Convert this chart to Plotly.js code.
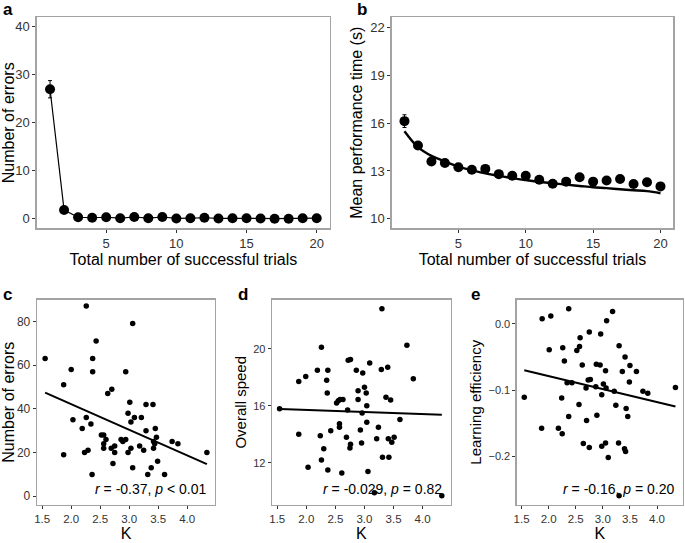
<!DOCTYPE html>
<html>
<head>
<meta charset="utf-8">
<script src="https://cdn.plot.ly/plotly-3.0.1.min.js"></script>
<style>
body{margin:0;background:#fff}
#fig{width:685px;height:543px}
</style>
</head>
<body>
<div id="fig"></div>
<script>
// trials 1..20 (panels a, b)
var trials = [1,2,3,4,5,6,7,8,9,10,11,12,13,14,15,16,17,18,19,20]
var errMean = [27,1.8,0.3,0.2,0.3,0.1,0.35,0.1,0.35,0.05,0.1,0.2,0.05,0.1,0.1,0.05,0,0,0.1,0.1]
var errSE = [1.8,0.35,0.15,0.1,0.1,0.05,0.1,0.05,0.1,0.05,0.05,0.1,0.05,0.05,0.05,0.05,0,0,0.05,0.05]
var timeMean = [16.13,14.6,13.6,13.5,13.23,13.08,13.13,12.8,12.7,12.7,12.45,12.2,12.33,12.6,12.33,12.4,12.5,12.18,12.29,12.03]
var timeSE = [0.4,0.25,0.1,0.1,0.1,0.1,0.1,0.08,0.08,0.08,0.08,0.08,0.08,0.08,0.08,0.08,0.08,0.08,0.08,0.08]
var timeFit = [15.5,14.5,13.95,13.6,13.27,13.05,12.85,12.7,12.55,12.43,12.32,12.23,12.14,12.06,11.98,11.92,11.85,11.79,11.73,11.6]

// panel c : K vs number of errors
var kC = [1.55,1.87,1.87,2.00,2.03,2.19,2.26,2.26,2.23,2.29,2.43,2.37,2.37,2.34,2.36,2.52,2.56,2.60,2.56,2.56,2.63,2.70,2.69,2.72,2.75,2.75,2.86,2.89,2.94,2.94,2.98,2.98,3.01,3.03,3.03,3.06,3.06,3.09,3.18,3.21,3.25,3.29,3.29,3.32,3.38,3.41,3.42,3.42,3.45,3.47,3.49,3.44,3.61,3.74,3.84,4.34]
var errC = [63,51,19,58,35,31,87,36,20,21,71,63,57,33,10,28,28,26,24,22,47,49,22,15,23,20,26,25,57,26,38,20,43,34,22,79,13,36,23,36,21,42,30,10,13,42,25,22,31,27,16,24,10,25,24,20]
var fitCx = [1.55,4.34]
var fitCy = [47.4,14.7]

// panel d : K vs overall speed
var kD = [1.54,1.87,1.87,1.99,2.03,2.19,2.26,2.24,2.26,2.30,2.37,2.35,2.36,2.37,2.42,2.52,2.55,2.58,2.63,2.57,2.57,2.61,2.69,2.71,2.72,2.76,2.76,2.75,2.86,2.89,2.89,2.93,2.95,2.97,2.96,3.00,3.03,3.04,3.04,3.06,3.09,3.17,3.21,3.24,3.29,3.30,3.31,3.37,3.40,3.41,3.42,3.45,3.47,3.51,3.61,3.73,3.84,4.33]
var speedD = [15.8,17.7,14.0,18.05,11.7,18.5,20.1,13.9,12.2,13.0,18.5,17.8,16.9,11.5,14.25,16.2,16.35,16.45,16.45,14.75,14.5,11.3,13.8,15.7,19.2,19.25,13.3,13.05,18.5,17.05,16.45,14.3,13.4,18.3,15.5,17.3,16.9,16.0,14.85,11.4,19.0,9.9,13.7,14.5,18.55,22.8,12.4,16.6,18.7,13.7,12.4,16.4,13.45,13.8,15.05,20.25,17.9,9.7]
var fitDx = [1.55,4.33]
var fitDy = [15.78,15.37]

// panel e : K vs learning efficiency
var kE = [1.55,1.88,2.04,2.37,3.18,3.07,2.01,2.26,2.52,2.57,2.58,2.75,2.96,2.29,2.62,2.88,2.95,3.05,3.30,3.41,3.50,3.36,3.62,2.73,2.77,2.34,2.43,3.01,3.06,2.69,2.87,3.49,3.21,3.74,3.83,4.34,2.98,2.24,2.56,3.24,3.43,2.37,2.70,2.89,3.46,1.87,2.18,2.25,2.64,2.75,2.98,3.05,3.29,3.40,3.42,3.10,3.30]
var effE = [-0.111,0.008,0.012,0.023,0.019,0.005,-0.039,-0.036,-0.040,-0.034,-0.021,-0.012,-0.015,-0.056,-0.062,-0.061,-0.062,-0.071,-0.033,-0.050,-0.063,-0.072,-0.072,-0.085,-0.084,-0.089,-0.089,-0.091,-0.097,-0.097,-0.095,-0.088,-0.102,-0.102,-0.105,-0.096,-0.107,-0.112,-0.122,-0.123,-0.128,-0.140,-0.146,-0.138,-0.140,-0.158,-0.158,-0.166,-0.181,-0.187,-0.185,-0.180,-0.180,-0.189,-0.193,-0.202,-0.260]
var fitEx = [1.55,4.34]
var fitEy = [-0.070,-0.125]

var FONT = 'Liberation Sans, Arial, Helvetica, sans-serif'

function ax(domain, range, title, tsize, lsize, extra){
    var a = {
        domain: domain,
        range: range,
        showline: true, mirror: true,
        linecolor: '#a3a3a3', linewidth: 1.3,
        ticks: 'outside', ticklen: 3, tickwidth: 1, tickcolor: '#333',
        showgrid: false, zeroline: false,
        tickfont: {family: FONT, size: lsize, color: '#333'},
        title: {text: title, font: {family: FONT, size: tsize, color: '#000'}, standoff: 3}
    }
    for (var k in extra) a[k] = extra[k]
    return a
}

var bigDot = {color: '#000', size: 10}
var smallDot = {color: '#000', size: 5.5}

var traces = [
    {x: trials, y: errMean, type: 'scatter', mode: 'lines+markers',
     line: {color: '#000', width: 1.2}, marker: bigDot,
     error_y: {type: 'data', array: errSE, color: '#000', thickness: 1, width: 2},
     xaxis: 'x', yaxis: 'y'},
    {x: trials, y: timeFit, type: 'scatter', mode: 'lines',
     line: {color: '#000', width: 2.4, shape: 'spline'}, xaxis: 'x2', yaxis: 'y2'},
    {x: trials, y: timeMean, type: 'scatter', mode: 'markers', marker: bigDot,
     error_y: {type: 'data', array: timeSE, color: '#000', thickness: 1, width: 2},
     xaxis: 'x2', yaxis: 'y2'},
    {x: kC, y: errC, type: 'scatter', mode: 'markers', marker: smallDot, xaxis: 'x3', yaxis: 'y3'},
    {x: fitCx, y: fitCy, type: 'scatter', mode: 'lines', line: {color: '#000', width: 2}, xaxis: 'x3', yaxis: 'y3'},
    {x: kD, y: speedD, type: 'scatter', mode: 'markers', marker: smallDot, xaxis: 'x4', yaxis: 'y4'},
    {x: fitDx, y: fitDy, type: 'scatter', mode: 'lines', line: {color: '#000', width: 2}, xaxis: 'x4', yaxis: 'y4'},
    {x: kE, y: effE, type: 'scatter', mode: 'markers', marker: smallDot, xaxis: 'x5', yaxis: 'y5'},
    {x: fitEx, y: fitEy, type: 'scatter', mode: 'lines', line: {color: '#000', width: 2}, xaxis: 'x5', yaxis: 'y5'}
]

var topY = [0.5796, 0.9681]
var botY = [0.0700, 0.4484]
var kTicks = {tickvals: [1.5,2,2.5,3,3.5,4], ticktext: ['1.5','2.0','2.5','3.0','3.5','4.0']}
var kRange = [1.41, 4.48]

var layout = {
    width: 685, height: 543,
    margin: {l: 0, r: 0, t: 0, b: 0},
    paper_bgcolor: '#fff', plot_bgcolor: '#fff',
    showlegend: false,
    xaxis: ax([0.0536, 0.4818], [0.05, 20.95], 'Total number of successful trials', 16, 13, {tickvals: [5,10,15,20], anchor: 'y'}),
    yaxis: ax(topY, [-2, 42], 'Number of errors', 16, 13, {tickvals: [0,10,20,30,40], anchor: 'x'}),
    xaxis2: ax([0.5718, 0.9829], [0.05, 20.95], 'Total number of successful trials', 16, 13, {tickvals: [5,10,15,20], anchor: 'y2'}),
    yaxis2: ax(topY, [9.4, 22.65], 'Mean performance time (s)', 16, 13, {tickvals: [10,13,16,19,22], anchor: 'x2'}),
    xaxis3: ax([0.0540, 0.3139], kRange, 'K', 16, 11.5, Object.assign({anchor: 'y3'}, kTicks)),
    yaxis3: ax(botY, [-4, 90], 'Number of errors', 16, 12, {tickvals: [0,20,40,60,80], anchor: 'x3'}),
    xaxis4: ax([0.3971, 0.6577], kRange, 'K', 16, 11.5, Object.assign({anchor: 'y4'}, kTicks)),
    yaxis4: ax(botY, [9.05, 23.45], 'Overall speed', 15, 11, {tickvals: [12,16,20], anchor: 'x4'}),
    xaxis5: ax([0.7543, 0.9971], kRange, 'K', 16, 11.5, Object.assign({anchor: 'y5'}, kTicks)),
    yaxis5: ax(botY, [-0.274, 0.037], 'Learning efficiency', 15, 11, {tickvals: [-0.2,-0.1,0], tickformat: '.1f', anchor: 'x5'}),
    annotations: []
}

// panel letters
var letters = [['a', 8, 10], ['b', 362, 10], ['c', 7, 295], ['d', 243, 295], ['e', 475, 295]]
letters.forEach(function(l){
    layout.annotations.push({text: '<b>' + l[0] + '</b>', xref: 'paper', yref: 'paper',
        x: l[1] / 685, y: 1 - l[2] / 543, xanchor: 'center', yanchor: 'middle',
        showarrow: false, font: {family: FONT, size: 17, color: '#000'}})
})

// correlation stats
var stats = [['x3', '<i>r</i> = -0.37, <i>p</i> &lt; 0.01'],
             ['x4', '<i>r</i> = -0.029, <i>p</i> = 0.82'],
             ['x5', '<i>r</i> = -0.16, <i>p</i> = 0.20']]
stats.forEach(function(s){
    layout.annotations.push({text: s[1], xref: s[0] + ' domain', yref: 'y' + s[0].slice(1) + ' domain',
        x: 0.965, y: 0.08, xanchor: 'right', yanchor: 'middle', showarrow: false,
        font: {family: FONT, size: 14, color: '#000'}})
})

Plotly.newPlot('fig', traces, layout, {staticPlot: true})
</script>
</body>
</html>
